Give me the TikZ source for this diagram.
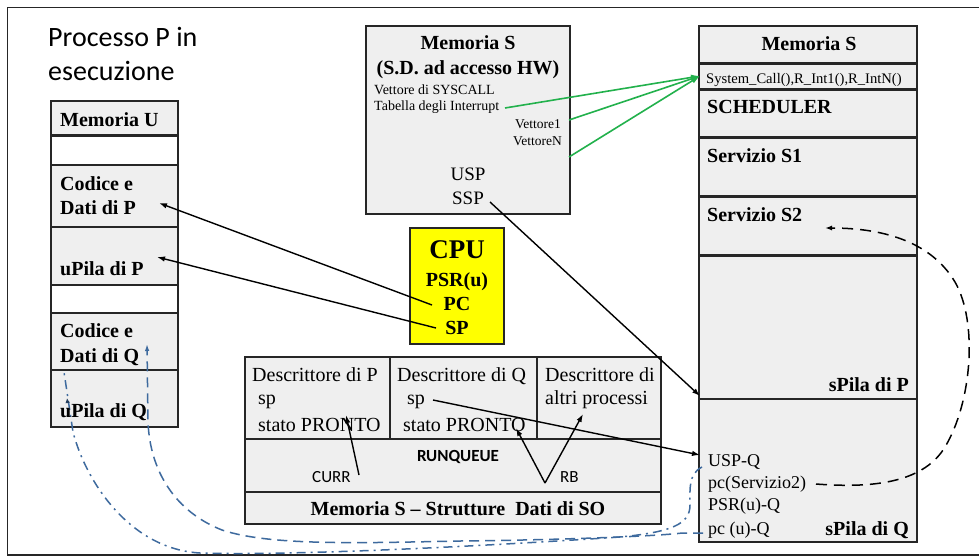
\documentclass[tikz,border=0pt]{standalone}
\usepackage{fontspec}
\setmainfont{Liberation Serif}
\newfontfamily\calibri{Carlito}
\usetikzlibrary{arrows.meta}

\definecolor{cellgray}{RGB}{239,239,239}
\definecolor{edge}{RGB}{38,38,38}
\definecolor{hwgreen}{RGB}{34,177,76}
\definecolor{linkblue}{RGB}{62,106,158}
\definecolor{cpuyellow}{RGB}{255,255,0}

\tikzset{
  cell/.style={draw=edge, line width=1.6pt, fill=cellgray, anchor=north west,
               inner sep=0pt, outer sep=0pt},
  blank/.style={cell, fill=white},
  sep/.style={draw=edge, line width=3pt},
  lbl/.style={anchor=base west, inner sep=0pt},
  lblc/.style={anchor=base, inner sep=0pt},
  lble/.style={anchor=base east, inner sep=0pt},
  bigbf/.style={font=\fontsize{20}{24}\selectfont\bfseries},
  txt/.style={font=\fontsize{20}{24}\selectfont},
  midtxt/.style={font=\fontsize{18}{22}\selectfont},
  small/.style={font=\fontsize{14}{16}\selectfont},
  sans/.style={font=\calibri\fontsize{17}{20}\selectfont},
  sansbf/.style={font=\calibri\fontsize{17}{20}\selectfont\bfseries},
  link/.style={draw=black, line width=1.4pt, -{Latex[length=8pt,width=5.5pt]}},
  hwlink/.style={draw=hwgreen, line width=1.6pt, -{Latex[length=9pt,width=6pt]}},
  callback/.style={draw=black, line width=1.5pt, dash pattern=on 11pt off 7pt,
                   -{Latex[length=7pt,width=5pt]}},
  ulink/.style={draw=linkblue, line width=1.5pt, dash pattern=on 10pt off 6pt},
  uslink/.style={draw=linkblue, line width=1.5pt, dash pattern=on 9pt off 5pt on 2pt off 5pt},
}

\begin{document}
\begin{tikzpicture}[x=1pt,y=-1pt]
\useasboundingbox (0,0) rectangle (979,557);
\fill[white] (0,0) rectangle (979,557);

% outer frame
\draw[edge, line width=1.6pt] (979,7.5) -- (7.5,7.5) -- (7.5,555) -- (979,555);

% title
\node[lbl, font=\calibri\fontsize{28}{32}\selectfont] (title1) at (48,46) {Processo P in};
\node[lbl, font=\calibri\fontsize{28}{32}\selectfont] (title2) at (48,80) {esecuzione};

% ---------- user memory column ----------
\node[cell,  minimum width=127pt, minimum height=34pt] (mu)   at (51,101) {};
\node[blank, minimum width=127pt, minimum height=30pt] (mub1) at (51,135) {};
\node[cell,  minimum width=127pt, minimum height=62pt] (mcp)  at (51,165) {};
\node[cell,  minimum width=127pt, minimum height=58pt] (mup)  at (51,227) {};
\node[blank, minimum width=127pt, minimum height=28pt] (mub2) at (51,285) {};
\node[cell,  minimum width=127pt, minimum height=57pt] (mcq)  at (51,313) {};
\node[cell,  minimum width=127pt, minimum height=57pt] (muq)  at (51,370) {};
\draw[sep] (mub1.north west) -- (mub1.north east);

\node[lbl, bigbf] (tmu)  at (60,126) {Memoria U};
\node[lbl, bigbf] (tcp1) at (60,190) {Codice e};
\node[lbl, bigbf] (tcp2) at (60,214) {Dati di P};
\node[lbl, bigbf] (tup)  at (60,275) {uPila di P};
\node[lbl, bigbf] (tcq1) at (60,337) {Codice e};
\node[lbl, bigbf] (tcq2) at (60,362) {Dati di Q};

% ---------- hardware-accessed kernel memory ----------
\node[cell, minimum width=204pt, minimum height=188pt] (hw) at (366,26) {};
\node[lblc, bigbf] (thw1) at (468,49) {Memoria S};
\node[lblc, bigbf] (thw2) at (468,74) {(S.D. ad accesso HW)};
\node[lbl, small] (tsys) at (374,94) {Vettore di SYSCALL};
\node[lbl, small] (tint) at (374,110) {Tabella degli Interrupt};
\node[lble, font=\fontsize{13.5}{15}\selectfont] (tv1) at (561,128) {Vettore1};
\node[lble, font=\fontsize{13.5}{15}\selectfont] (tvn) at (562,145) {VettoreN};
\node[lblc, font=\fontsize{19}{22}\selectfont] (tusp) at (468,180) {USP};
\node[lblc, font=\fontsize{19}{22}\selectfont] (tssp) at (468,204) {SSP};

% ---------- CPU ----------
\node[cell, fill=cpuyellow, minimum width=94pt, minimum height=116pt] (cpu) at (410,228) {};
\node[lblc, font=\fontsize{27}{30}\selectfont\bfseries] (tcpu) at (457,258) {CPU};
\node[lblc, bigbf] (tpsr) at (457,286) {PSR(u)};
\node[lblc, bigbf] (tpc)  at (457,310) {PC};
\node[lblc, bigbf] (tsp)  at (457,334) {SP};

% ---------- OS data structures ----------
\node[cell, minimum width=145pt, minimum height=82pt] (dp) at (245,357) {};
\node[cell, minimum width=147pt, minimum height=82pt] (dq) at (390,357) {};
\node[cell, minimum width=124pt, minimum height=82pt] (da) at (537,357) {};
\node[cell, minimum width=416pt, minimum height=53pt] (rq) at (245,439) {};
\node[cell, minimum width=416pt, minimum height=32pt] (so) at (245,492) {};

\node[lbl, txt] (tdp1) at (252,381) {Descrittore di P};
\node[lbl, txt] (tdp2) at (258,404) {sp};
\node[lbl, txt] (tdp3) at (258,431) {stato PRONTO};
\node[lbl, txt] (tdq1) at (397,381) {Descrittore di Q};
\node[lbl, txt] (tdq2) at (407,404) {sp};
\node[lbl, txt] (tdq3) at (403,431) {stato PRONTO};
\node[lbl, txt] (tda1) at (545,381) {Descrittore di};
\node[lbl, txt] (tda2) at (545,404) {altri processi};
\node[lblc, sansbf] (trq)   at (458,461) {RUNQUEUE};
\node[lbl, sans]   (tcurr) at (312,482) {CURR};
\node[lbl, sans]   (trb)   at (560,482) {RB};
\node[lblc, bigbf] (tso)   at (458,515) {Memoria S -- Strutture\ \ Dati di SO};

% ---------- kernel memory column ----------
\node[cell, minimum width=218pt, minimum height=37pt]  (rm)  at (699,26)  {};
\node[cell, minimum width=218pt, minimum height=26pt]  (rsy) at (699,63)  {};
\node[cell, minimum width=218pt, minimum height=48pt]  (rsc) at (699,89)  {};
\node[cell, minimum width=218pt, minimum height=60pt]  (rs1) at (699,137) {};
\node[cell, minimum width=218pt, minimum height=59pt]  (rs2) at (699,196) {};
\node[cell, minimum width=218pt, minimum height=144pt] (rpp) at (699,255) {};
\node[cell, minimum width=218pt, minimum height=143pt] (rpq) at (699,399) {};
\foreach \r in {rsy,rsc,rs1,rs2,rpp}
  \draw[sep] (\r.north west) -- (\r.north east);

\node[lblc, bigbf] (trm)  at (809,50)  {Memoria S};
\node[lbl, font=\fontsize{14.6}{16}\selectfont] (trsy) at (706,83) {System\_Call(),R\_Int1(),R\_IntN()};
\node[lbl, bigbf] (trsc) at (707,113) {SCHEDULER};
\node[lbl, bigbf] (trs1) at (707,162) {Servizio S1};
\node[lbl, bigbf] (trs2) at (707,221) {Servizio S2};
\node[lble, bigbf] (trpp) at (909,391) {sPila di P};
\node[lble, bigbf] (trpq) at (909,535) {sPila di Q};
\node[lbl, midtxt] (tuspq) at (708,466) {USP-Q};
\node[lbl, midtxt] (tpcs)  at (708,488) {pc(Servizio2)};
\node[lbl, midtxt] (tpsrq) at (708,510) {PSR(u)-Q};
\node[lbl, midtxt] (tpcu)  at (708,534) {pc (u)-Q};

% ---------- link end points ----------
\coordinate (pcA)   at (432,305);  \coordinate (pcB)   at (159,203);
\coordinate (spA)   at (436,328);  \coordinate (spB)   at (157,257);
\coordinate (sspA)  at (490,202);  \coordinate (sspB)  at (700,396);
\coordinate (sqA)   at (433,400);  \coordinate (sqB)   at (700,455);
\coordinate (curA)  at (359,475);  \coordinate (curB)  at (346,415);
\coordinate (rbV)   at (545,483);
\coordinate (rbQ)   at (516,428);  \coordinate (rbO)   at (583,414);
\coordinate (hwTip) at (700,76);
\coordinate (hwA)   at (505,108);  \coordinate (hwB)   at (569,120);
\coordinate (hwC)   at (569,157);
\coordinate (s2From) at (816,484); \coordinate (s2To)  at (825,228);
\coordinate (qpcA)  at (703,533);  \coordinate (qpcB)  at (147,344);
\coordinate (quspA) at (702,467);  \coordinate (quspB) at (64,372);
\coordinate (quspT) at (67,398);

% the u-stack label sits over the user links
\draw[uslink] (quspA) .. controls (688,474) and (690,490) .. (690,505)
   .. controls (690,524) and (672,532) .. (620,537)
   .. controls (500,545) and (300,556) .. (200,553)
   .. controls (130,549) and (86,482) .. (73,432) -- (quspB);
\draw[linkblue!60!black, line width=1pt, -{Latex[length=5pt,width=4.5pt]}]
   (67.6,403) -- (quspT);
\draw[ulink, -{Latex[length=7pt,width=4.5pt]}] (qpcA) -- (682,533)
   .. controls (660,536) and (560,540) .. (460,541)
   .. controls (360,543) and (270,546) .. (222,530)
   .. controls (176,512) and (150,472) .. (148,422) -- (qpcB);
\node[lbl, bigbf] (tuq) at (60,417) {uPila di Q};

% ---------- pointers ----------
\draw[link] (pcA) -- (pcB);
\draw[link] (spA) -- (spB);
\draw[link] (sspA) -- (sspB);
\draw[link] (sqA) -- (sqB);
\draw[link] (curA) -- (curB);
\draw[link] (rbV) -- (rbQ);
\draw[link] (rbV) -- (rbO);

\draw[hwlink] (hwA) -- (hwTip);
\draw[hwlink] (hwB) -- (hwTip);
\draw[hwlink] (hwC) -- (hwTip);

\draw[callback] (s2From) .. controls (880,489) and (925,480) .. (945,447)
   .. controls (972,402) and (978,322) .. (955,282)
   .. controls (930,240) and (880,228) .. (s2To);
\end{tikzpicture}
\end{document}
